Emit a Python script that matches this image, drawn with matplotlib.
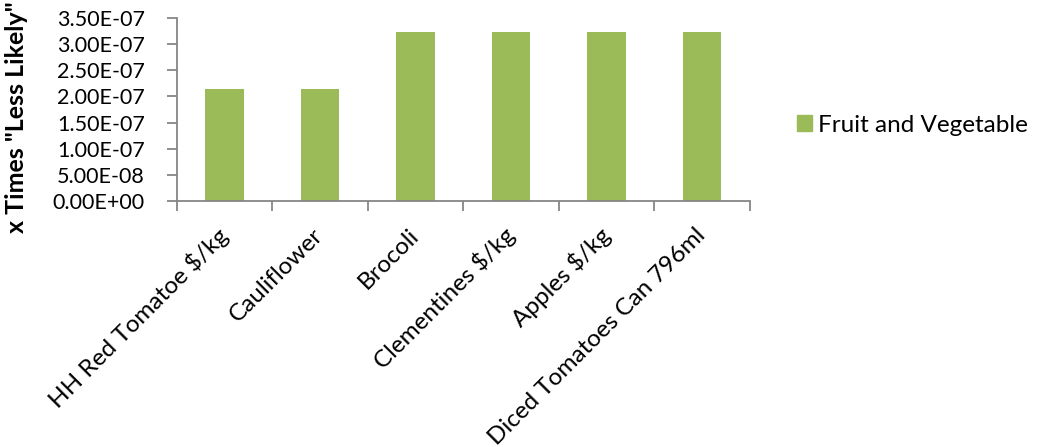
import matplotlib.pyplot as plt
import numpy as np
from matplotlib.ticker import FuncFormatter
from matplotlib.patches import Patch
from matplotlib.transforms import ScaledTranslation

categories = ["HH Red Tomatoe $/kg", "Cauliflower", "Brocoli",
              "Clementines $/kg", "Apples $/kg", "Diced Tomatoes Can 796ml"]
values = [2.15e-07, 2.15e-07, 3.225e-07, 3.225e-07, 3.225e-07, 3.225e-07]
series_name = "Fruit and Vegetable"
y_ticks = np.arange(0, 3.51e-07, 5e-08)

plt.rcParams["font.family"] = ["Lato", "DejaVu Sans"]

fig = plt.figure(figsize=(10.4, 4.47), dpi=100)
ax = fig.add_axes([0.170, 0.550, 0.551, 0.410])

x = np.arange(len(categories))
ax.bar(x, values, width=0.4, color="#9BBB59")

ax.set_xlim(-0.5, len(categories) - 0.5)
ax.set_ylim(0, 3.5e-07)
ax.set_yticks(y_ticks)
ax.yaxis.set_major_formatter(FuncFormatter(lambda v, p: f"{v:.2E}"))

# category boundaries carry the tick marks, labels sit at the centres
ax.set_xticks(np.arange(-0.5, len(categories)), minor=False)
ax.set_xticklabels([])
ax.set_xticks(x, minor=True)
ax.set_xticklabels(categories, minor=True, rotation=45, ha="right",
                   va="center", rotation_mode="anchor", fontsize=17.5)
shift = ScaledTranslation(8 / 100, 0, fig.dpi_scale_trans)
for lab in ax.get_xticklabels(minor=True):
    lab.set_transform(lab.get_transform() + shift)
ax.tick_params(axis="x", which="minor", length=0, pad=22)
ax.tick_params(axis="x", which="major", length=7, color="#868686", width=1.3)
ax.tick_params(axis="y", length=7, color="#868686", width=1.3, labelsize=15.5, pad=16)

for side in ["top", "right"]:
    ax.spines[side].set_visible(False)
for side in ["left", "bottom"]:
    ax.spines[side].set_color("#868686")
    ax.spines[side].set_linewidth(1.3)

ax.set_ylabel('x Times "Less Likely"', fontsize=18, fontweight="bold")
ax.yaxis.set_label_coords(-0.26, 0.46)

fig.legend(handles=[Patch(color="#9BBB59", label=series_name)],
           loc="center left", bbox_to_anchor=(0.766, 0.72), frameon=False,
           borderpad=0, borderaxespad=0, fontsize=17.5,
           handlelength=0.62, handleheight=0.62, handletextpad=0.25)

fig.savefig("out.png", dpi=100)
